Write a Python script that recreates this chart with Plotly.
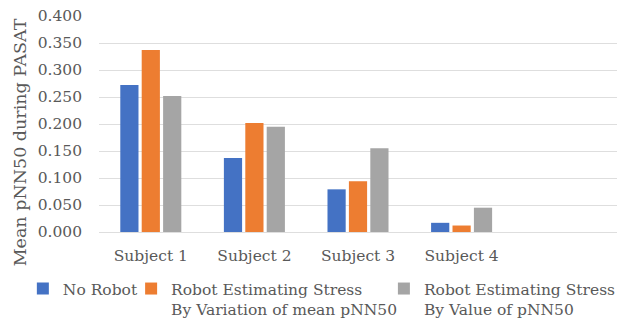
import plotly.graph_objects as go

# Mean pNN50 during PASAT for each subject and condition
subjects = ["Subject 1", "Subject 2", "Subject 3", "Subject 4"]
no_robot = [0.272, 0.137, 0.079, 0.017]
robot_variation = [0.337, 0.202, 0.094, 0.012]
robot_value = [0.252, 0.195, 0.155, 0.045]

series_names = [
    "No Robot",
    "Robot Estimating Stress<br>By Variation of mean pNN50",
    "Robot Estimating Stress<br>By Value of pNN50",
]
series_colors = ["#4472C4", "#ED7D31", "#A5A5A5"]
y_ticks = [0.0, 0.05, 0.10, 0.15, 0.20, 0.25, 0.30, 0.35, 0.40]

FONT = "DejaVu Serif"
TEXT = "#595959"
SIZE = 15.5

positions = list(range(len(subjects)))

# one legend box per series so each entry sits at its own spot along the bottom
legend_ids = ["legend", "legend2", "legend3"]
legend_x = [-0.147, 0.062, 0.55]

fig = go.Figure()
for name, vals, color, lid in zip(series_names, [no_robot, robot_variation, robot_value],
                                  series_colors, legend_ids):
    fig.add_trace(go.Bar(x=positions, y=vals, name=name, marker_color=color,
                         marker_line_width=0, legend=lid))

legend_common = dict(orientation="h", xanchor="left", y=-0.185, yanchor="top",
                     valign="top", font=dict(family=FONT, size=SIZE, color=TEXT),
                     itemwidth=30, bgcolor="rgba(0,0,0,0)")

fig.update_layout(
    width=619, height=322,
    margin=dict(l=99, r=2, t=16, b=90, autoexpand=False),
    paper_bgcolor="white", plot_bgcolor="white",
    barmode="group", bargap=0.38, bargroupgap=0.15,
    font=dict(family=FONT, size=SIZE, color=TEXT),
    showlegend=True,
    legend=dict(x=legend_x[0], **legend_common),
    legend2=dict(x=legend_x[1], **legend_common),
    legend3=dict(x=legend_x[2], **legend_common),
    annotations=[dict(text="Mean pNN50 during PASAT", textangle=-90,
                      xref="paper", yref="paper", x=-0.1525, y=0.415,
                      xanchor="center", yanchor="middle", showarrow=False,
                      font=dict(family=FONT, size=17.5, color=TEXT))],
)
fig.update_xaxes(range=[-0.5, 4.5], tickvals=positions, ticktext=subjects,
                 showgrid=False, zeroline=False, showline=False, ticks="",
                 ticklabelstandoff=12,
                 tickfont=dict(family=FONT, size=SIZE, color=TEXT))
fig.update_yaxes(range=[0, 0.4], tickvals=y_ticks, tickformat=".3f",
                 showgrid=True, gridcolor="#DEDEDE", gridwidth=1,
                 zeroline=True, zerolinecolor="#DEDEDE", zerolinewidth=1,
                 showline=False, ticks="", ticklabelstandoff=16,
                 tickfont=dict(family=FONT, size=SIZE, color=TEXT))

fig.write_html("out.html")
